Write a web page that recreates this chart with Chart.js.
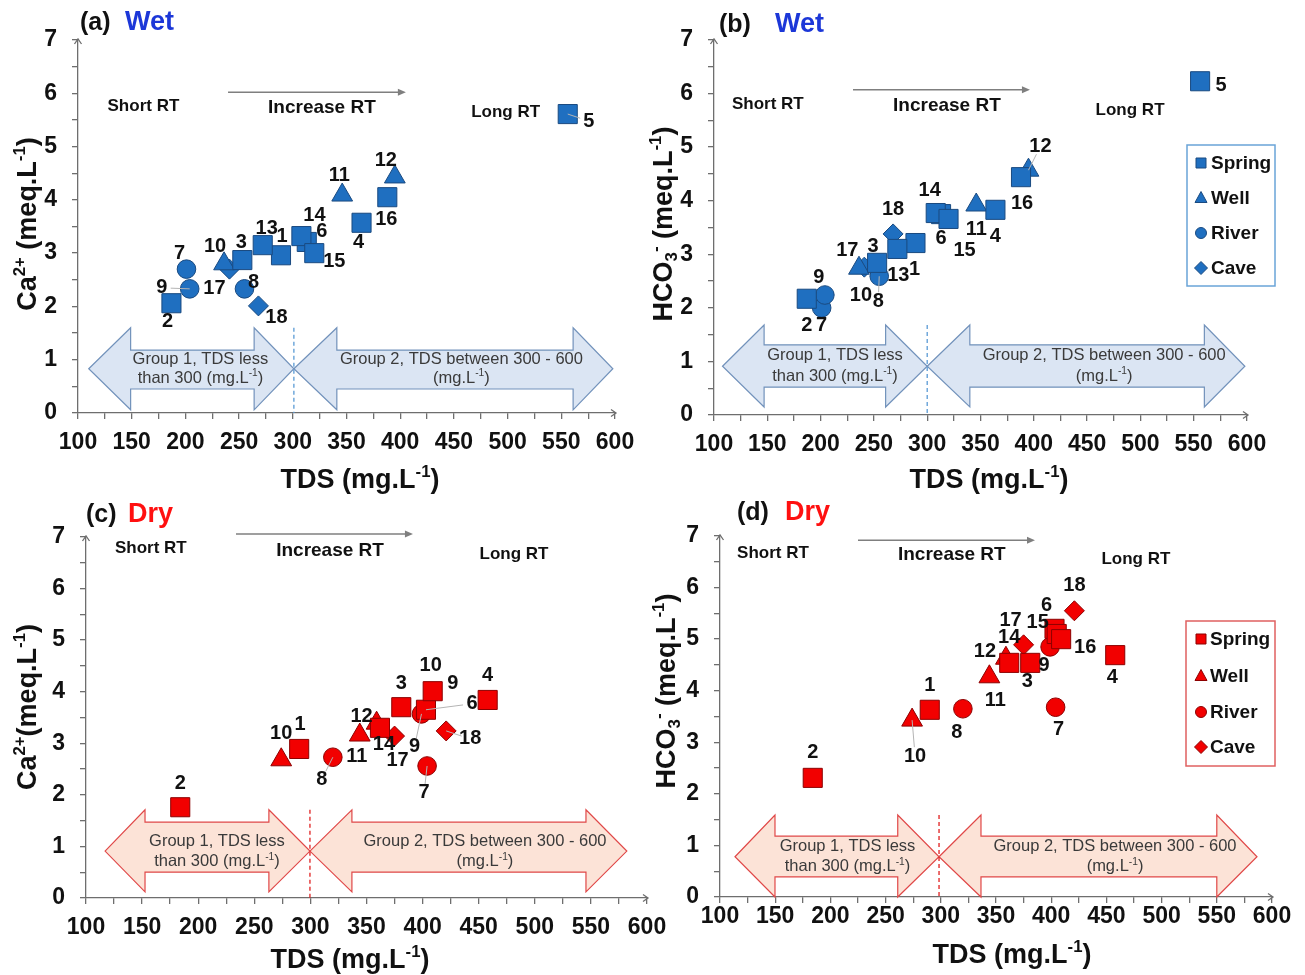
<!DOCTYPE html>
<html lang="en">
<head>
<meta charset="UTF-8">
<title>Ca2+ and HCO3- against TDS, wet and dry season</title>
<style>
  body { margin: 0; background: #fff; }
  #wrap { position: relative; width: 1305px; height: 975px; }
  #wrap canvas { position: absolute; left: 0; top: 0; }
</style>
</head>
<body>
<div id="wrap">
  <canvas id="chartA" width="1305" height="975"></canvas>
  <canvas id="chartB" width="1305" height="975"></canvas>
  <canvas id="chartC" width="1305" height="975"></canvas>
  <canvas id="chartD" width="1305" height="975"></canvas>
</div>
<script src="https://cdn.jsdelivr.net/npm/chart.js"></script>
<script>
const FONT = '"Liberation Sans", Arial, Helvetica, sans-serif';
const AXIS = '#6e6e6e';

const kinds = ['Spring', 'Well', 'River', 'Cave'];
const tdsRange = [100, 600];
const tdsStep = 25;
const tdsLabelEvery = 50;
const concRange = [0, 7];
const concStep = 0.5;

// wet season, stations 1-18
const wetStation = ['1', '2', '3', '4', '5', '6', '7', '8', '9', '10', '11', '12', '13', '14', '15', '16', '17', '18'];
const wetType = ['Spring', 'Spring', 'Spring', 'Spring', 'Spring', 'Spring', 'River', 'River', 'River',
                 'Well', 'Well', 'Well', 'Spring', 'Spring', 'Spring', 'Spring', 'Cave', 'Cave'];
const wetTds  = [289, 187, 253, 364, 556, 313, 201, 255, 204, 236, 346, 395, 272, 308, 320, 388, 241, 268];
const wetCa   = [2.96, 2.06, 2.87, 3.57, 5.61, 3.21, 2.70, 2.33, 2.33, 2.80, 4.09, 4.43, 3.15, 3.32, 3.00, 4.05, 2.70, 2.01];
const wetHco3 = [3.21, 2.17, 2.84, 3.83, 6.23, 3.75, 2.00, 2.59, 2.24, 2.74, 3.92, 4.57, 3.10, 3.77, 3.66, 4.44, 2.76, 3.38];

// dry season (no sample at 5 and 13)
const dryStation = ['1', '2', '3', '4', '6', '7', '8', '9', '10', '11', '12', '14', '15', '16', '17', '18'];
const dryType = ['Spring', 'Spring', 'Spring', 'Spring', 'Spring', 'River', 'River', 'River',
                 'Well', 'Well', 'Well', 'Spring', 'Spring', 'Spring', 'Cave', 'Cave'];
const dryTds  = [290, 184, 381, 458, 403, 404, 320, 399, 274, 344, 359, 362, 405, 409, 375, 421];
const dryCa   = [2.89, 1.76, 3.70, 3.84, 3.65, 2.56, 2.73, 3.57, 2.68, 3.16, 3.39, 3.30, null, 4.01, 3.14, 3.24];
const dryHco3 = [3.63, 2.31, 4.54, 4.69, 5.20, 3.68, 3.65, 4.85, 3.43, 4.27, 4.63, 4.54, 5.10, 5.00, 4.89, 5.55];
// tags as printed on the dry Ca panel
const dryCaTag = ['1', '2', '3', '4', '6', '7', '8', '9', '10', '11', '12', '14', null, ['10', '9'], '17', '18'];

// tag placement, px from the marker centre; third item = draw a leader line
const tagPosA = [[1, -19], [-4, 18], [-1, -18], [-3, 20], [21, 7, 1], [15, -10], [-7, -16], [9, -6], [-28, -1, 1],
                 [-9, -17], [-3, -20], [-9, -16], [4, -17], [13, -21], [20, 8], [-1, 22], [-15, 19], [18, 12]];
const tagPosB = [[-1, 26], [0, 27], [-4, -16], [0, 27], [21, 4], [0, 24], [0, 18], [-1, 25, 1], [-6, -18],
                 [2, 27], [0, 24], [12, -24, 1], [1, 27], [-6, -23], [16, 32], [1, 26], [-17, -17], [0, -24]];
const tagPosC = [[1, -24], [0, -24], [0, -24], [0, -24], [46, -6, 1], [-3, 27, 1], [-11, 22, 1], [-7, 33, 1],
                 [0, -26], [-3, 21], [-15, -7], [4, 17], null, [[-2, -26], [20, -8]], [3, 24], [24, 8, 1]];
const tagPosD = [[0, -24], [0, -25], [-3, 19], [-3, 22], [-8, -23], [3, 22], [-6, 24], [-6, 19], [3, 36, 1],
                 [6, 24], [-21, -7], [0, -25], [-19, -12], [24, 8], [-13, -24], [0, -25]];

const markerOf = { Spring: ['rect', 13.5], Well: ['triangle', 12], River: ['circle', 9.3], Cave: ['rectRot', 10] };
const shades = {
  Wet: { fill: '#1f6fc0', line: '#1a4a80', word: '#1c37d8', bandFill: '#dbe5f3', bandLine: '#7292bb', cut: '#5b9bd5', key: '#6aa4d8' },
  Dry: { fill: '#f20000', line: '#8c0000', word: '#ff1010', bandFill: '#fce3d7', bandLine: '#e04848', cut: '#e02020', key: '#e06060' }
};

const caParts   = [['Ca', 0], ['2+', 1], [' (meq.L', 0], ['-1', 1], [')', 0]];
const caParts2  = [['Ca', 0], ['2+', 1], ['(meq.L', 0], ['-1', 1], [')', 0]];
const hco3Parts = [['HCO', 0], ['3', -1], ['-', 1], [' (meq.L', 0], ['-1', 1], [')', 0]];
const tdsParts  = [['TDS (mg.L', 0], ['-1', 1], [')', 0]];

const Y_AXIS_W = 60;
const X_AXIS_H = 40;

const panels = [
  { canvas: 'chartA', season: 'Wet', letter: '(a)', type: wetType, tds: wetTds, vals: wetCa, tags: wetStation, tagPos: tagPosA,
    area: [78, 40, 615, 413], xPad: 10, head: [80, 125, 23],
    yTitle: { parts: caParts, x: 26, y: 224 }, xTitle: { x: 360, y: 478 },
    rt: { short: [160.9, 5.76], inc: [327.1, 5.72], long: [498.2, 5.65], arrow: [239.7, 405.3, 6.02] },
    band: { x: [110, 149, 264, 301, 341, 561, 598], y: [0.83, 1.6, 0.06, 1.18, 0.45], text: [214, 457, 1.03, 0.68] },
    key: null },
  { canvas: 'chartB', season: 'Wet', letter: '(b)', type: wetType, tds: wetTds, vals: wetHco3, tags: wetStation, tagPos: tagPosB,
    area: [714, 40, 1247, 415], xPad: 10, head: [719, 775, 25],
    yTitle: { parts: hco3Parts, x: 662, y: 224 }, xTitle: { x: 989, y: 478 },
    rt: { short: [150.5, 5.8], inc: [318.5, 5.77], long: [490.3, 5.69], arrow: [230.4, 396.4, 6.07] },
    band: { x: [108, 147, 261, 300, 340, 560, 598], y: [0.91, 1.68, 0.15, 1.31, 0.52], text: [213.5, 466, 1.14, 0.75] },
    key: { box: [1187, 145, 1275, 286], rows: [163, 198, 233, 268], mx: 1201, tx: 1211 } },
  { canvas: 'chartC', season: 'Dry', letter: '(c)', type: dryType, tds: dryTds, vals: dryCa, tags: dryCaTag, tagPos: tagPosC,
    area: [86, 537, 647, 898], xPad: 10, head: [86, 128, 515],
    yTitle: { parts: caParts2, x: 26, y: 707 }, xTitle: { x: 350, y: 958 },
    rt: { short: [157.8, 6.78], inc: [317.5, 6.74], long: [481.5, 6.67], arrow: [233.7, 391.4, 7.06] },
    band: { x: [117, 152.6, 263, 299.6, 337, 545.6, 582], y: [0.91, 1.71, 0.12, 1.47, 0.5], text: [216.7, 455.6, 1.12, 0.74] },
    key: null },
  { canvas: 'chartD', season: 'Dry', letter: '(d)', type: dryType, tds: dryTds, vals: dryHco3, tags: dryStation, tagPos: tagPosD,
    area: [720, 536, 1272, 897], xPad: 0, head: [737, 785, 513],
    yTitle: { parts: hco3Parts, x: 665, y: 691 }, xTitle: { x: 1012, y: 953 },
    rt: { short: [148, 6.66], inc: [310, 6.63], long: [476.7, 6.55], arrow: [225, 385.3, 6.92] },
    band: { x: [113.6, 149.8, 261, 298.4, 336.4, 550, 586.4], y: [0.78, 1.59, 0.0, 1.18, 0.39], text: [215.5, 457.8, 1.01, 0.62] },
    key: { box: [1186, 621, 1275, 766], rows: [639, 676, 712, 747], mx: 1201, tx: 1210 } }
];

// text runs with super/subscripts: [text, 0 | 1 (sup) | -1 (sub)]
function richRun(ctx, parts, size, weight, x, y, draw) {
  let cx = x;
  parts.forEach(([t, m]) => {
    const s = m ? size * 0.62 : size;
    ctx.font = `${weight} ${s}px ${FONT}`;
    if (draw) ctx.fillText(t, cx, y + (m === 1 ? -size * 0.38 : m === -1 ? size * 0.2 : 0));
    cx += ctx.measureText(t).width;
  });
  return cx - x;
}

function drawRich(ctx, parts, size, weight, cx, cy, rotate) {
  ctx.save();
  ctx.translate(cx, cy);
  if (rotate) ctx.rotate(-Math.PI / 2);
  ctx.textAlign = 'left';
  ctx.textBaseline = 'alphabetic';
  const w = richRun(ctx, parts, size, weight, 0, 0, false);
  richRun(ctx, parts, size, weight, -w / 2, size * 0.36, true);
  ctx.restore();
}

function blockArrow(ctx, X, Y, xs, ys) {
  const [tip0, back0, back1, tip1] = xs.map(X);
  const [mid, ht, hb, st, sb] = ys.map(Y);
  ctx.beginPath();
  ctx.moveTo(tip0, mid);
  ctx.lineTo(back0, ht); ctx.lineTo(back0, st); ctx.lineTo(back1, st); ctx.lineTo(back1, ht);
  ctx.lineTo(tip1, mid);
  ctx.lineTo(back1, hb); ctx.lineTo(back1, sb); ctx.lineTo(back0, sb); ctx.lineTo(back0, hb);
  ctx.closePath();
  ctx.fill();
  ctx.stroke();
}

function keyMarker(ctx, style, x, y) {
  ctx.beginPath();
  if (style === 'rect') ctx.rect(x - 5, y - 5, 10, 10);
  else if (style === 'triangle') { ctx.moveTo(x, y - 6.5); ctx.lineTo(x + 6, y + 4.5); ctx.lineTo(x - 6, y + 4.5); ctx.closePath(); }
  else if (style === 'circle') ctx.arc(x, y, 5.5, 0, Math.PI * 2);
  else { ctx.moveTo(x, y - 6.5); ctx.lineTo(x + 6.5, y); ctx.lineTo(x, y + 6.5); ctx.lineTo(x - 6.5, y); ctx.closePath(); }
  ctx.fill();
  ctx.stroke();
}

const decor = {
  id: 'decor',
  beforeDatasetsDraw(chart) {
    const p = panels.find(q => q.canvas === chart.canvas.id);
    const c = shades[p.season];
    const ctx = chart.ctx;
    const X = v => chart.scales.x.getPixelForValue(v);
    const Y = v => chart.scales.y.getPixelForValue(v);
    const b = p.band;

    ctx.save();
    // group arrows
    ctx.fillStyle = c.bandFill;
    ctx.strokeStyle = c.bandLine;
    ctx.lineWidth = 1.2;
    ctx.lineJoin = 'miter';
    blockArrow(ctx, X, Y, b.x.slice(0, 4), b.y);
    blockArrow(ctx, X, Y, b.x.slice(3, 7), b.y);

    // 300 mg/L cut
    ctx.strokeStyle = c.cut;
    ctx.lineWidth = 1.3;
    ctx.setLineDash([4, 3]);
    ctx.beginPath();
    ctx.moveTo(X(b.x[3]), Y(b.y[1]));
    ctx.lineTo(X(b.x[3]), Y(0));
    ctx.stroke();
    ctx.setLineDash([]);

    ctx.fillStyle = '#3a3a3a';
    drawRich(ctx, [['Group 1, TDS less', 0]], 16.5, 'normal', X(b.text[0]), Y(b.text[2]));
    drawRich(ctx, [['than 300 (mg.L', 0], ['-1', 1], [')', 0]], 16.5, 'normal', X(b.text[0]), Y(b.text[3]));
    drawRich(ctx, [['Group 2, TDS between 300 - 600', 0]], 16.5, 'normal', X(b.text[1]), Y(b.text[2]));
    drawRich(ctx, [['(mg.L', 0], ['-1', 1], [')', 0]], 16.5, 'normal', X(b.text[1]), Y(b.text[3]));

    // residence time notes
    ctx.fillStyle = '#111';
    ctx.textAlign = 'center';
    ctx.textBaseline = 'middle';
    ctx.font = `bold 17px ${FONT}`;
    ctx.fillText('Short RT', X(p.rt.short[0]), Y(p.rt.short[1]));
    ctx.fillText('Long RT', X(p.rt.long[0]), Y(p.rt.long[1]));
    ctx.font = `bold 19px ${FONT}`;
    ctx.fillText('Increase RT', X(p.rt.inc[0]), Y(p.rt.inc[1]));

    const [a0, a1, ay] = p.rt.arrow;
    ctx.strokeStyle = '#7f7f7f';
    ctx.fillStyle = '#7f7f7f';
    ctx.lineWidth = 1.5;
    ctx.beginPath();
    ctx.moveTo(X(a0), Y(ay));
    ctx.lineTo(X(a1) - 5, Y(ay));
    ctx.stroke();
    ctx.beginPath();
    ctx.moveTo(X(a1), Y(ay));
    ctx.lineTo(X(a1) - 8, Y(ay) - 3.5);
    ctx.lineTo(X(a1) - 8, Y(ay) + 3.5);
    ctx.closePath();
    ctx.fill();
    ctx.restore();
  },
  afterDatasetsDraw(chart) {
    const p = panels.find(q => q.canvas === chart.canvas.id);
    const c = shades[p.season];
    const ctx = chart.ctx;
    const area = chart.chartArea;

    ctx.save();
    // station tags
    ctx.font = `bold 20px ${FONT}`;
    ctx.textAlign = 'center';
    ctx.textBaseline = 'middle';
    chart.data.datasets.forEach((ds, di) => {
      chart.getDatasetMeta(di).data.forEach((el, k) => {
        const i = ds.data[k].i;
        const tag = p.tags[i];
        const pos = p.tagPos[i];
        if (tag == null || !pos) return;
        const list = [].concat(tag);
        const spots = Array.isArray(pos[0]) ? pos : [pos];
        list.forEach((t, j) => {
          const [dx, dy, lead] = spots[j];
          if (lead) {
            const len = Math.hypot(dx, dy);
            const f = Math.max(len - 9, 0) / len;
            ctx.strokeStyle = '#b4b4b4';
            ctx.lineWidth = 1;
            ctx.beginPath();
            ctx.moveTo(el.x, el.y);
            ctx.lineTo(el.x + dx * f, el.y + dy * f);
            ctx.stroke();
          }
          ctx.fillStyle = '#111';
          ctx.fillText(t, el.x + dx, el.y + dy);
        });
      });
    });

    // legend box
    if (p.key) {
      const k = p.key;
      ctx.strokeStyle = c.key;
      ctx.lineWidth = 1.5;
      ctx.strokeRect(k.box[0], k.box[1], k.box[2] - k.box[0], k.box[3] - k.box[1]);
      kinds.forEach((kind, j) => {
        ctx.fillStyle = c.fill;
        ctx.strokeStyle = c.line;
        ctx.lineWidth = 1;
        keyMarker(ctx, markerOf[kind][0], k.mx, k.rows[j]);
        ctx.fillStyle = '#111';
        ctx.font = `bold 19px ${FONT}`;
        ctx.textAlign = 'left';
        ctx.textBaseline = 'middle';
        ctx.fillText(kind, k.tx, k.rows[j] + 1);
      });
    }

    // axis end arrows
    ctx.strokeStyle = AXIS;
    ctx.lineWidth = 1.3;
    ctx.beginPath();
    ctx.moveTo(area.left - 3.5, area.top + 4);
    ctx.lineTo(area.left, area.top - 1);
    ctx.lineTo(area.left + 3.5, area.top + 4);
    ctx.moveTo(area.right - 4, area.bottom - 3.5);
    ctx.lineTo(area.right + 1, area.bottom);
    ctx.lineTo(area.right - 4, area.bottom + 3.5);
    ctx.stroke();

    // panel heading and axis titles
    ctx.textAlign = 'left';
    ctx.textBaseline = 'middle';
    ctx.fillStyle = '#111';
    ctx.font = `bold 25px ${FONT}`;
    ctx.fillText(p.letter, p.head[0], p.head[2]);
    ctx.fillStyle = c.word;
    ctx.font = `bold 27px ${FONT}`;
    ctx.fillText(p.season, p.head[1], p.head[2]);

    ctx.fillStyle = '#111';
    drawRich(ctx, p.yTitle.parts, 27, 'bold', p.yTitle.x, p.yTitle.y, true);
    drawRich(ctx, tdsParts, 27, 'bold', p.xTitle.x, p.xTitle.y, false);
    ctx.restore();
  }
};

panels.forEach(p => {
  const c = shades[p.season];
  const [x0, y0, x1, y1] = p.area;
  const tickFont = { family: FONT, size: 23, weight: 'bold' };

  new Chart(document.getElementById(p.canvas), {
    type: 'scatter',
    data: {
      datasets: kinds.map(kind => ({
        label: kind,
        data: p.tds.map((x, i) => ({ x, y: p.vals[i], i }))
                   .filter(pt => p.type[pt.i] === kind && pt.y !== null),
        pointStyle: markerOf[kind][0],
        pointRadius: markerOf[kind][1],
        pointHoverRadius: markerOf[kind][1],
        backgroundColor: c.fill,
        borderColor: c.line,
        borderWidth: 1
      }))
    },
    options: {
      responsive: false,
      animation: false,
      events: [],
      layout: { padding: { left: x0 - Y_AXIS_W, top: y0, right: 1305 - x1, bottom: 975 - y1 - X_AXIS_H } },
      plugins: { legend: { display: false }, tooltip: { enabled: false } },
      scales: {
        x: {
          type: 'linear',
          min: tdsRange[0],
          max: tdsRange[1],
          afterFit: s => { s.height = X_AXIS_H; },
          border: { color: AXIS, width: 1.3 },
          grid: { drawOnChartArea: false, drawTicks: true, tickLength: 6, color: AXIS, lineWidth: 1.3 },
          ticks: {
            stepSize: tdsStep, maxTicksLimit: 40, autoSkip: false, maxRotation: 0, minRotation: 0,
            padding: p.xPad, color: '#111', font: tickFont,
            callback: v => (v % tdsLabelEvery === 0 ? String(v) : '')
          }
        },
        y: {
          type: 'linear',
          min: concRange[0],
          max: concRange[1],
          afterFit: s => { s.width = Y_AXIS_W; },
          border: { color: AXIS, width: 1.3 },
          grid: { drawOnChartArea: false, drawTicks: true, tickLength: 6, color: AXIS, lineWidth: 1.3 },
          ticks: {
            stepSize: concStep, maxTicksLimit: 40, autoSkip: false,
            padding: 15, color: '#111', font: tickFont,
            callback: v => (Number.isInteger(v) ? String(v) : '')
          }
        }
      }
    },
    plugins: [decor]
  });
});
</script>
</body>
</html>
